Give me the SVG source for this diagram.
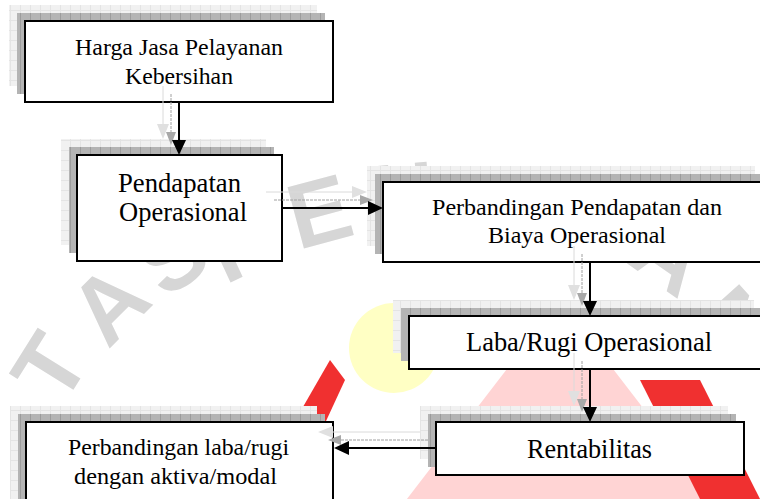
<svg xmlns="http://www.w3.org/2000/svg" width="760" height="499" viewBox="0 0 760 499">
<defs>
<style>
.box{fill:#fff;stroke:#000;stroke-width:2}
.sh1{fill:url(#dk)}
.sh2{fill:url(#lt)}
.t{font-family:"Liberation Serif","Times New Roman",serif;fill:#000}
.wm{font-family:"Liberation Sans",Arial,sans-serif;font-weight:bold;font-size:92px;fill:#d6d6d6}
.ln{stroke:#000;stroke-width:2;fill:none}
.ah{fill:#000}
.g1{stroke:#a0a0a0;stroke-width:1;fill:none;stroke-dasharray:3 1}
.g2{stroke:#dadada;stroke-width:1;fill:none}
.gh1{fill:#a8a8a8}
.gh2{fill:#e0e0e0}
</style>
<pattern id="dk" width="10" height="8" patternUnits="userSpaceOnUse"><rect width="10" height="8" fill="#b4b4b4"/><path d="M0.5 0V8" stroke="#9c9c9c"/></pattern>
<pattern id="lt" width="10" height="10" patternUnits="userSpaceOnUse"><rect width="10" height="10" fill="#f1f1f1"/><path d="M0.5 0V10M0 0.5H10" stroke="#e4e4e4"/></pattern>
</defs>
<g id="watermark">
<path d="M560 300 L760 560 L360 560 Z" fill="#ffd4d4"/>
<path d="M250 499 L330 360 L345 380 L290 499 Z" fill="#f03030"/>
<path d="M640 380 L700 380 L760 499 L700 499 Z" fill="#f03030"/>
<circle cx="394" cy="348" r="45" fill="#ffffc4"/>
<text class="wm" transform="translate(62,408) rotate(-58)">T</text>
<text class="wm" transform="translate(108,350) rotate(-45)">A</text>
<text class="wm" transform="translate(165,300) rotate(-35)">S</text>
<text class="wm" transform="translate(225,285) rotate(-25)">P</text>
<text class="wm" transform="translate(298,250) rotate(-15)">E</text>
<text class="wm" transform="translate(372,230) rotate(-5)">N</text>
<text class="wm" transform="translate(625,262) rotate(35)">A</text>
<text class="wm" transform="translate(688,322) rotate(48)">N</text>
</g>
<g id="n1">
<rect class="sh2" x="9" y="5" width="308" height="81"/>
<rect class="sh1" x="17" y="13" width="308" height="81"/>
<rect class="box" x="25" y="21" width="308" height="81"/>
<text class="t" font-size="24" x="75" y="55" textLength="208" lengthAdjust="spacingAndGlyphs">Harga Jasa Pelayanan</text>
<text class="t" font-size="24" x="125" y="84" textLength="108" lengthAdjust="spacingAndGlyphs">Kebersihan</text>
</g>
<g id="n2">
<rect class="sh2" x="61" y="139" width="205" height="106"/>
<rect class="sh1" x="69" y="147" width="205" height="106"/>
<rect class="box" x="77" y="155" width="205" height="106"/>
<text class="t" font-size="28" x="118" y="192" textLength="123" lengthAdjust="spacingAndGlyphs">Pendapatan</text>
<text class="t" font-size="28" x="119" y="221" textLength="128" lengthAdjust="spacingAndGlyphs">Operasional</text>
</g>
<g id="n3">
<rect class="sh2" x="367" y="166" width="388" height="80"/>
<rect class="sh1" x="375" y="174" width="388" height="80"/>
<rect class="box" x="383" y="182" width="388" height="80"/>
<text class="t" font-size="24" x="432" y="215" textLength="290" lengthAdjust="spacingAndGlyphs">Perbandingan Pendapatan dan</text>
<text class="t" font-size="24" x="488" y="243" textLength="178" lengthAdjust="spacingAndGlyphs">Biaya Operasional</text>
</g>
<g id="n4">
<rect class="sh2" x="393" y="300" width="361" height="53"/>
<rect class="sh1" x="401" y="308" width="361" height="53"/>
<rect class="box" x="409" y="316" width="361" height="53"/>
<text class="t" font-size="27" x="466" y="351" textLength="246" lengthAdjust="spacingAndGlyphs">Laba/Rugi Operasional</text>
</g>
<g id="n5">
<rect class="sh2" x="420" y="406" width="308" height="53"/>
<rect class="sh1" x="428" y="414" width="308" height="53"/>
<rect class="box" x="436" y="422" width="308" height="53"/>
<text class="t" font-size="28" x="527" y="458" textLength="125" lengthAdjust="spacingAndGlyphs">Rentabilitas</text>
</g>
<g id="n6">
<rect class="sh2" x="10" y="406" width="307" height="100"/>
<rect class="sh1" x="18" y="414" width="307" height="100"/>
<rect class="box" x="26" y="422" width="307" height="100"/>
<text class="t" font-size="24" x="68" y="455" textLength="221" lengthAdjust="spacingAndGlyphs">Perbandingan laba/rugi</text>
<text class="t" font-size="24" x="74" y="484" textLength="203" lengthAdjust="spacingAndGlyphs">dengan aktiva/modal</text>
</g>
<g id="connectors">
<g id="ghost">
<path class="g2" d="M163 86V124M266 192H352M574 246V285M574 353V391M420 432H333"/>
<path class="gh2" d="M157 124H169L163 139ZM352 186V198L367 192ZM568 285H580L574 300ZM568 391H580L574 406ZM333 426V438L318 432Z"/>
<path class="g1" d="M171 94V132M274 200H360M582 254V293M582 361V399M428 440H341"/>
<path class="gh1" d="M166 132H176L171 145ZM360 195V205L373 200ZM577 293H587L582 306ZM577 399H587L582 412ZM341 435V445L328 440Z"/>
</g>
<path class="ln" d="M179 102V141"/>
<path class="ah" d="M172 140H186L179 155Z"/>
<path class="ln" d="M282 208H369"/>
<path class="ah" d="M368 201V215L383 208Z"/>
<path class="ln" d="M590 262V302"/>
<path class="ah" d="M583 301H597L590 316Z"/>
<path class="ln" d="M590 369V408"/>
<path class="ah" d="M583 407H597L590 422Z"/>
<path class="ln" d="M436 448H348"/>
<path class="ah" d="M349 441V455L334 448Z"/>
</g>
</svg>
